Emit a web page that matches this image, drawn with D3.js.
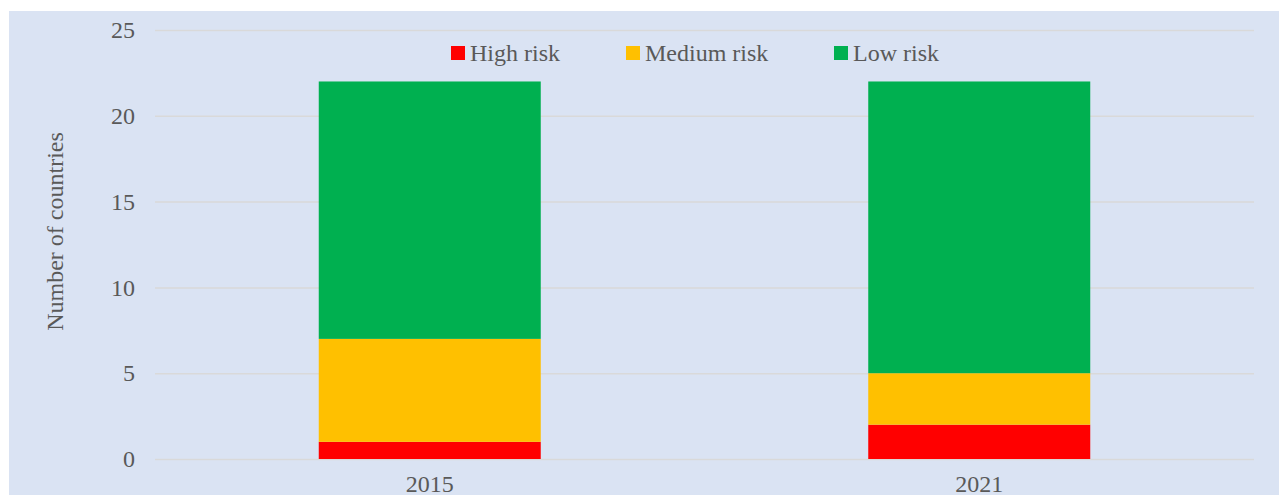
<!DOCTYPE html>
<html>
<head>
<meta charset="utf-8">
<script src="https://cdn.jsdelivr.net/npm/d3@7"></script>
<style>
  html, body { margin: 0; padding: 0; background: #ffffff; }
  svg { display: block; }
  text { font-family: "Liberation Serif", "Times New Roman", serif; fill: #595959; }
</style>
</head>
<body>
<svg id="chart" width="1279" height="495"></svg>
<script>
const categories = ["2015", "2021"];
const seriesNames = ["High risk", "Medium risk", "Low risk"];
const highRisk = [1, 2];
const mediumRisk = [6, 3];
const lowRisk = [15, 17];
const seriesColors = ["#FF0000", "#FFC000", "#00B050"];
const yTicks = [0, 5, 10, 15, 20, 25];

const W = 1279, H = 495;
const plot = { left: 155, right: 1254, top: 30, bottom: 459 };

const svg = d3.select("#chart");

// background panel
svg.append("rect").attr("x", 9).attr("y", 11).attr("width", W - 9).attr("height", H - 11)
  .attr("fill", "#DAE3F3");

const rows = categories.map((c, i) => ({
  cat: c, "High risk": highRisk[i], "Medium risk": mediumRisk[i], "Low risk": lowRisk[i]
}));
const stacked = d3.stack().keys(seriesNames)(rows);

const x = d3.scaleBand().domain(categories).range([plot.left, plot.right])
  .paddingInner(0.596).paddingOuter(0.298);
const y = d3.scaleLinear().domain([0, 25]).range([plot.bottom, plot.top]);
const color = d3.scaleOrdinal().domain(seriesNames).range(seriesColors);

// gridlines
const grid = svg.append("g").attr("transform", `translate(${plot.left},0)`)
  .call(d3.axisLeft(y).tickValues(yTicks).tickSize(-(plot.right - plot.left)).tickFormat(""));
grid.select(".domain").remove();
grid.selectAll("line").attr("stroke", "#D9D9D9").attr("stroke-width", 1.5);

// y axis labels
const yAxis = svg.append("g").attr("transform", `translate(${plot.left},0)`)
  .call(d3.axisLeft(y).tickValues(yTicks).tickSize(0).tickPadding(20));
yAxis.select(".domain").remove();
yAxis.selectAll("text").attr("font-size", 24).attr("font-family", null).style("fill", "#595959");

// bars
svg.append("g").selectAll("g").data(stacked).join("g")
  .attr("fill", d => color(d.key))
  .selectAll("rect").data(d => d).join("rect")
  .attr("x", d => x(d.data.cat))
  .attr("width", x.bandwidth())
  .attr("y", d => y(d[1]))
  .attr("height", d => y(d[0]) - y(d[1]));

// x axis labels
const xAxis = svg.append("g").attr("transform", `translate(0,${plot.bottom})`)
  .call(d3.axisBottom(x).tickSize(0));
xAxis.select(".domain").remove();
xAxis.selectAll("text").attr("font-size", 24).attr("font-family", null)
  .attr("y", 33).attr("dy", null).style("fill", "#595959");

// y title
svg.append("text")
  .attr("transform", "translate(63,231.5) rotate(-90)")
  .attr("text-anchor", "middle")
  .attr("font-size", 24)
  .text("Number of countries");

// legend
const legendX = [451, 626, 834];
const lg = svg.append("g").selectAll("g").data(seriesNames).join("g")
  .attr("transform", (d, i) => `translate(${legendX[i]},0)`);
lg.append("rect").attr("x", 0).attr("y", 46).attr("width", 14).attr("height", 14)
  .attr("fill", d => color(d));
lg.append("text").attr("x", 19).attr("y", 61).attr("font-size", 24).text(d => d);
</script>
</body>
</html>
